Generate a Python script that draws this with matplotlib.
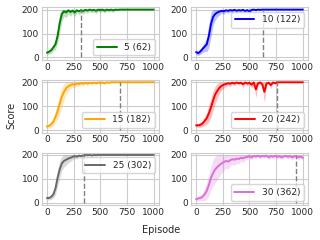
import numpy as np
import matplotlib
matplotlib.use("Agg")
import matplotlib.pyplot as plt
import seaborn as sns

sns.set_style("whitegrid")
plt.rcParams['font.family'] = ['DejaVu Sans']

episodes = np.arange(0, 1001, 20)

labels = ["5 (62)", "10 (122)", "15 (182)", "20 (242)", "25 (302)", "30 (362)"]
colors = ["green", "blue", "orange", "red", "dimgray", "orchid"]
legend_locs = ["lower right", "upper right", "lower right", "lower right", "upper right", "lower right"]
vline_x = [320, 630, 680, 760, 350, 940]

mean_5 = [20, 24, 30, 42, 55, 90, 145, 182, 193, 188, 197, 190, 196, 188, 197, 193, 198, 194, 199, 196,
          200, 197, 199, 195, 200, 198, 200, 196, 200, 198, 200, 197, 200, 199] + [200] * 17
spread_5 = [8, 10, 12, 15, 20, 30, 40, 30, 20, 22, 15, 18, 12, 18, 10, 15, 10, 14, 9, 12,
            8, 10, 9, 12, 8, 10, 7, 10, 7, 8, 6, 8, 4, 4] + [0] * 17

mean_10 = [22, 18, 25, 35, 45, 55, 90, 140, 170, 182, 188, 192, 195, 193, 197, 195, 198, 196, 199, 195,
           198, 196, 199, 194, 198, 192, 199, 200, 198, 200, 199] + [200] * 20
spread_10 = [10, 10, 12, 15, 20, 30, 50, 50, 35, 25, 18, 14, 10, 12, 8, 10, 8, 10, 6, 10,
             7, 9, 6, 10, 7, 12, 5, 3, 4, 2, 2] + [0] * 20

mean_15 = [15, 18, 25, 35, 55, 80, 110, 140, 160, 175, 183, 188, 192, 190, 195, 193, 197, 194, 198, 195,
           198, 196, 199, 196, 199, 197, 199, 196, 200, 198, 200] + [200] * 20
spread_15 = [8, 10, 12, 15, 25, 35, 40, 40, 35, 25, 20, 15, 12, 14, 10, 12, 8, 10, 7, 10,
             6, 8, 5, 8, 5, 7, 4, 8, 3, 4, 2] + [0] * 20

mean_20 = [20, 20, 22, 28, 38, 50, 70, 95, 125, 150, 165, 178, 185, 190, 193, 196, 194, 198, 195, 199,
           196, 198, 192, 199, 195, 198, 190, 199, 170, 196, 199, 192, 160, 195, 198, 188, 199, 196, 200] + [200] * 12
spread_20 = [8, 8, 10, 12, 18, 25, 35, 40, 40, 35, 30, 22, 18, 14, 12, 8, 12, 6, 10, 5,
             8, 6, 15, 5, 10, 6, 15, 4, 35, 8, 4, 12, 45, 8, 5, 15, 3, 5, 0] + [0] * 12

mean_25 = [20, 20, 25, 35, 60, 105, 140, 165, 175, 180, 185, 188, 192, 195, 193, 197, 195, 198, 200, 199,
           200, 198, 200, 199] + [200] * 27
spread_25 = [8, 8, 10, 15, 25, 35, 35, 30, 25, 22, 18, 15, 12, 10, 10, 8, 8, 6, 3, 4,
             2, 4, 2, 2] + [0] * 27

mean_30 = [15, 18, 20, 25, 35, 50, 75, 105, 125, 140, 150, 158, 165, 170, 175, 172, 178, 182, 180, 185,
           183, 188, 186, 190, 192, 195, 190, 196, 193, 197, 192, 196, 194, 197, 190, 195, 193, 196, 192, 195,
           190, 194, 196, 192, 195, 190, 194, 196, 190, 193, 188]
spread_30 = [8, 10, 12, 15, 25, 35, 45, 50, 55, 55, 50, 45, 40, 35, 30, 30, 25, 22, 25, 20,
             20, 15, 18, 12, 10, 8, 12, 6, 10, 5, 10, 6, 8, 5, 12, 8, 10, 6, 10, 8,
             12, 8, 6, 10, 7, 12, 8, 6, 12, 8, 10]

means = [mean_5, mean_10, mean_15, mean_20, mean_25, mean_30]
spreads = [spread_5, spread_10, spread_15, spread_20, spread_25, spread_30]

fig, axes = plt.subplots(3, 2, figsize=(3.2, 2.4), dpi=100)
fig.subplots_adjust(left=0.13, right=0.963, top=0.97, bottom=0.145, wspace=0.27, hspace=0.38)

for k, ax in enumerate(axes.flat):
    m = np.array(means[k], dtype=float)
    s = np.array(spreads[k], dtype=float)
    lo = m - s
    hi = np.minimum(m + s, 200)
    ax.fill_between(episodes, lo, hi, color=colors[k], alpha=0.25, linewidth=0)
    ax.plot(episodes, m, color=colors[k], lw=1.4, label=labels[k])
    idx = int(np.argmin(np.abs(episodes - vline_x[k])))
    ax.vlines(vline_x[k], 0, m[idx], colors="gray", linestyles="--", lw=1)
    ax.set_xlim(-50, 1050)
    ax.set_ylim(-10, 210)
    ax.set_xticks([0, 250, 500, 750, 1000])
    ax.set_yticks([0, 100, 200])
    ax.tick_params(labelsize=6.5, pad=2, length=0)
    ax.legend(loc=legend_locs[k], fontsize=6.5, handlelength=2.2, borderpad=0.4, labelspacing=0.2)
    for sp in ax.spines.values():
        sp.set_linewidth(0.8)
    ax.grid(linewidth=0.8)

fig.text(0.505, 0.02, "Episode", ha="center", va="bottom", fontsize=7)
fig.text(0.02, 0.52, "Score", ha="left", va="center", rotation=90, fontsize=7)

fig.savefig("out.png", dpi=100)
